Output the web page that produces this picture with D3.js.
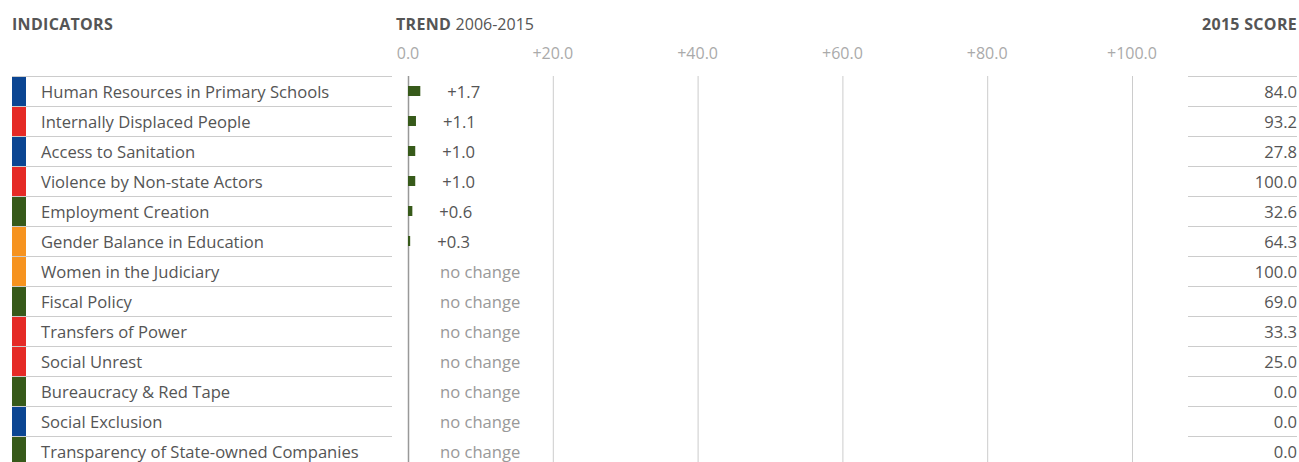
<!DOCTYPE html>
<html>
<head>
<meta charset="utf-8">
<script src="https://cdn.jsdelivr.net/npm/d3@7"></script>
<style>
  body { margin: 0; background: #fff; }
  svg { display: block; font-family: "Open Sans", sans-serif; }
  .hdr { font-size: 16px; font-weight: 700; fill: #555; letter-spacing: 0.3px; }
  .hdr-light { font-weight: 400; letter-spacing: 0; }
  .tick-label { font-size: 16px; fill: #aaa; }
  .row-label { font-size: 16.6px; fill: #555; }
  .val-label { font-size: 16.6px; fill: #555; }
  .nochange { font-size: 16.6px; fill: #999; }
  .score { font-size: 16.6px; fill: #555; }
</style>
</head>
<body>
<svg id="chart"></svg>
<script>
const indicators = [
  'Human Resources in Primary Schools',
  'Internally Displaced People',
  'Access to Sanitation',
  'Violence by Non-state Actors',
  'Employment Creation',
  'Gender Balance in Education',
  'Women in the Judiciary',
  'Fiscal Policy',
  'Transfers of Power',
  'Social Unrest',
  'Bureaucracy & Red Tape',
  'Social Exclusion',
  'Transparency of State-owned Companies'
];
const groups = ['blue', 'red', 'blue', 'red', 'green', 'orange', 'orange', 'green', 'red', 'red', 'green', 'blue', 'green'];
const trend = [1.7, 1.1, 1.0, 1.0, 0.6, 0.3, 0, 0, 0, 0, 0, 0, 0];
const score2015 = [84.0, 93.2, 27.8, 100.0, 32.6, 64.3, 100.0, 69.0, 33.3, 25.0, 0.0, 0.0, 0.0];
const trendTicks = [0, 20, 40, 60, 80, 100];

const groupColor = { blue: '#0b4592', red: '#e52a26', green: '#375a1a', orange: '#f6931f' };
const barColor = '#375a1a';

const W = 1299, H = 462;
const svg = d3.select('#chart').attr('width', W).attr('height', H);

const rowTop = 76, rowH = 30;
const y = d3.scaleBand().domain(d3.range(indicators.length))
  .range([rowTop, rowTop + rowH * indicators.length]).padding(0);
const x = d3.scaleLinear().domain([0, 100]).range([408, 1132]);

// headers
svg.append('text').attr('class', 'hdr').attr('x', 12).attr('y', 30).text('INDICATORS');
const th = svg.append('text').attr('class', 'hdr').attr('x', 396).attr('y', 30);
th.append('tspan').text('TREND ');
th.append('tspan').attr('class', 'hdr-light').text('2006-2015');
svg.append('text').attr('class', 'hdr').attr('x', 1297).attr('y', 30)
  .attr('text-anchor', 'end').text('2015 SCORE');

// trend axis labels + gridlines
svg.selectAll('.tick-label').data(trendTicks).join('text')
  .attr('class', 'tick-label')
  .attr('x', d => x(d)).attr('y', 59).attr('text-anchor', 'middle')
  .text(d => (d === 0 ? '' : '+') + d3.format('.1f')(d));

svg.selectAll('.grid').data(trendTicks).join('line')
  .attr('class', 'grid')
  .attr('x1', d => x(d) + 0.5).attr('x2', d => x(d) + 0.5)
  .attr('y1', rowTop).attr('y2', H)
  .attr('stroke', d => d === 0 ? '#999' : '#ccc').attr('stroke-width', d => d === 0 ? 1.5 : 1);

const rows = svg.selectAll('.row').data(indicators).join('g')
  .attr('class', 'row')
  .attr('transform', (d, i) => `translate(0,${y(i)})`);

// separator lines
rows.append('line').attr('x1', 12).attr('x2', 392).attr('y1', 0.5).attr('y2', 0.5)
  .attr('stroke', '#ccc');
rows.append('line').attr('x1', 1188).attr('x2', 1297).attr('y1', 0.5).attr('y2', 0.5)
  .attr('stroke', '#ccc');

// colour strips
rows.append('rect').attr('x', 12).attr('y', 1).attr('width', 14).attr('height', rowH - 1)
  .attr('fill', (d, i) => groupColor[groups[i]]);

rows.append('text').attr('class', 'row-label')
  .attr('x', 41).attr('y', rowH / 2 + 7).text(d => d);

// trend bars
rows.filter((d, i) => trend[i] > 0).append('rect')
  .attr('x', x(0)).attr('y', rowH / 2 - 5)
  .attr('width', d => x(trend[indicators.indexOf(d)]) - x(0))
  .attr('height', 10).attr('fill', barColor);

rows.append('text')
  .attr('class', (d, i) => trend[i] > 0 ? 'val-label' : 'nochange')
  .attr('x', (d, i) => trend[i] > 0 ? x(trend[i]) + 27 : x(0) + 32)
  .attr('y', rowH / 2 + 7)
  .text((d, i) => trend[i] > 0 ? '+' + d3.format('.1f')(trend[i]) : 'no change');

// scores
rows.append('text').attr('class', 'score')
  .attr('x', 1297).attr('y', rowH / 2 + 7).attr('text-anchor', 'end')
  .text((d, i) => d3.format('.1f')(score2015[i]));
</script>
</body>
</html>
